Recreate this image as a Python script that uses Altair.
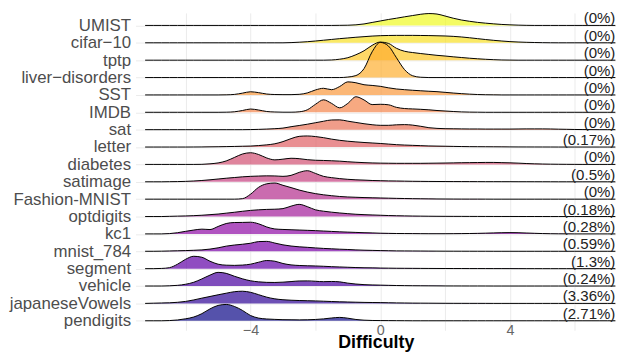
import json
import altair as alt
import pandas as pd

# ---- data -------------------------------------------------------------
DATASETS = ["UMIST", "cifar\u221210", "tptp", "liver\u2212disorders", "SST", "IMDB",
            "sat", "letter", "diabetes", "satimage", "Fashion-MNIST", "optdigits",
            "kc1", "mnist_784", "segment", "vehicle", "japaneseVowels", "pendigits"]

PERCENTS = ["(0%)", "(0%)", "(0%)", "(0%)", "(0%)", "(0%)", "(0%)", "(0.17%)",
            "(0%)", "(0.5%)", "(0%)", "(0.18%)", "(0.28%)", "(0.59%)", "(1.3%)",
            "(0.24%)", "(3.36%)", "(2.71%)"]

# Difficulty sample positions (-7.25 .. 7.25, step 0.25)
X_GRID = [round(-7.25 + 0.25 * i, 2) for i in range(59)]

# Density heights (scaled) at each X_GRID position
UMIST_H = [0, 0, 0, 0, 0, 0, 0, 0, 0, 0,
           0, 0, 0, 0, 0, 0, 0, 0, 0, 0,
           0, 0, 0, 0, 0.1, 0.2, 0.6, 1.5, 3.0, 4.5,
           6.0, 7.3, 8.7, 10.0, 11.3, 12.0, 11.5, 9.5, 7.3, 5.5,
           4.2, 3.1, 2.3, 1.6, 1.0, 0.6, 0.3, 0.1, 0, 0,
           0, 0, 0, 0, 0, 0, 0, 0, 0]
CIFAR_H = [0, 0, 0, 0, 0, 0, 0, 0, 0, 0,
           0, 0, 0, 0, 0, 0, 0, 0, 0.2, 0.6,
           1.1, 1.8, 2.6, 3.4, 4.2, 4.9, 5.6, 6.2, 6.8, 7.2,
           7.4, 7.5, 7.5, 7.5, 7.4, 7.3, 7.1, 6.9, 6.5, 5.9,
           5.1, 4.2, 3.3, 2.5, 1.8, 1.2, 0.8, 0.5, 0.3, 0.15,
           0.05, 0, 0, 0, 0, 0, 0, 0, 0]
TPTP_H = [0, 0, 0, 0, 0, 0, 0, 0, 0, 0,
          0, 0, 0, 0, 0, 0, 0, 0, 0, 0,
          0, 0, 0, 0.2, 1.0, 2.5, 5.5, 9.5, 15.0, 18.3,
          17.0, 12.0, 9.0, 7.7, 6.7, 5.8, 4.9, 4.2, 3.4, 2.7,
          2.0, 1.4, 0.9, 0.5, 0.2, 0.1, 0, 0, 0, 0,
          0, 0, 0, 0, 0, 0, 0, 0, 0]
LIVER_H = [0, 0, 0, 0, 0, 0, 0, 0, 0, 0,
           0, 0, 0, 0, 0, 0, 0, 0, 0, 0,
           0, 0, 0, 0, 0, 0.5, 2.0, 9.0, 26.0, 35.5,
           32.0, 20.0, 8.0, 1.8, 0.3, 0, 0, 0, 0, 0,
           0, 0, 0, 0, 0, 0, 0, 0, 0, 0,
           0, 0, 0, 0, 0, 0, 0, 0, 0]
SST_H = [0, 0, 0, 0, 0, 0, 0, 0, 0, 0,
         0.1, 0.5, 1.8, 3.2, 2.3, 0.9, 0.4, 0.3, 0.3, 0.6,
         2.0, 5.0, 6.7, 5.3, 8.5, 13.2, 12.3, 10.3, 9.6, 8.7,
         7.2, 6.0, 5.3, 4.7, 4.2, 3.7, 3.3, 2.6, 1.9, 1.3,
         0.8, 0.4, 0.2, 0.1, 0, 0, 0, 0, 0, 0,
         0, 0, 0, 0, 0, 0, 0, 0, 0]
IMDB_H = [0, 0, 0, 0, 0, 0, 0, 0, 0, 0,
          0.1, 0.5, 1.8, 3.3, 2.3, 0.8, 0.3, 0.1, 0.1, 0.5,
          2.5, 8.0, 12.6, 9.0, 4.5, 9.0, 15.7, 12.5, 7.8, 8.1,
          7.6, 5.0, 3.8, 3.4, 3.0, 2.5, 1.8, 1.3, 0.8, 0.4,
          0.2, 0.1, 0, 0, 0, 0, 0, 0, 0, 0,
          0, 0, 0, 0, 0, 0, 0, 0, 0]
SAT_H = [0, 0, 0, 0, 0, 0, 0, 0, 0, 0,
         0, 0, 0, 0.1, 0.3, 0.6, 1.0, 1.6, 3.0, 4.2,
         5.5, 7.0, 8.5, 9.8, 9.9, 8.6, 7.3, 6.0, 5.0, 4.4,
         4.4, 4.9, 5.1, 4.6, 3.4, 2.0, 1.3, 1.0, 0.9, 0.8,
         0.7, 0.7, 0.6, 0.6, 0.6, 0.6, 0.7, 0.8, 0.8, 0.8,
         0.7, 0.5, 0.35, 0.2, 0.1, 0.05, 0, 0, 0]
LETTER_H = [0, 0, 0, 0, 0, 0, 0.05, 0.1, 0.2, 0.3,
            0.45, 0.6, 0.8, 1.0, 1.5, 2.2, 3.3, 5.5, 8.5, 10.8,
            11.2, 10.6, 9.5, 8.0, 6.8, 5.9, 5.2, 4.6, 4.1, 3.6,
            3.0, 2.4, 2.0, 1.7, 1.4, 1.1, 0.95, 0.8, 0.65, 0.5,
            0.4, 0.35, 0.3, 0.25, 0.2, 0.15, 0.1, 0.08, 0.06, 0.05,
            0.03, 0, 0, 0, 0, 0, 0, 0, 0]
DIABETES_H = [0, 0, 0, 0, 0, 0, 0, 0.1, 0.6, 1.5,
              3.5, 7.0, 10.5, 11.8, 10.0, 6.5, 4.6, 5.3, 6.2, 5.8,
              4.8, 4.2, 4.0, 3.7, 3.3, 2.7, 2.2, 1.8, 1.5, 1.3,
              1.2, 1.1, 1.1, 1.1, 1.1, 1.2, 1.3, 1.4, 1.55, 1.7,
              1.8, 1.9, 2.0, 2.0, 1.8, 1.6, 1.3, 0.9, 0.6, 0.4,
              0.25, 0.15, 0.1, 0.05, 0, 0, 0, 0, 0]
SATIMAGE_H = [0, 0, 0, 0.1, 0.2, 0.4, 0.8, 1.3, 2.0, 2.8,
              3.6, 4.3, 5.0, 5.5, 5.8, 6.0, 5.9, 5.5, 6.5, 9.5,
              11.2, 8.5, 5.5, 4.2, 3.2, 2.5, 2.0, 1.7, 1.3, 1.1,
              0.9, 0.8, 0.65, 0.5, 0.42, 0.35, 0.3, 0.25, 0.22, 0.2,
              0.18, 0.15, 0.13, 0.12, 0.1, 0.1, 0.08, 0.07, 0.06, 0.05,
              0.03, 0, 0, 0, 0, 0, 0, 0, 0]
FASHION_H = [0, 0, 0, 0, 0, 0, 0, 0, 0, 0,
             0, 0, 0.5, 5.0, 12.0, 15.5, 16.3, 14.0, 11.7, 9.2,
             7.2, 5.6, 4.4, 3.5, 2.7, 2.2, 1.9, 1.6, 1.4, 1.2,
             1.0, 0.8, 0.65, 0.5, 0.4, 0.3, 0.2, 0.15, 0.1, 0.08,
             0.06, 0.05, 0.03, 0, 0, 0, 0, 0, 0, 0,
             0, 0, 0, 0, 0, 0, 0, 0, 0]
OPTDIGITS_H = [0, 0, 0, 0.2, 0.4, 0.6, 0.9, 1.3, 1.9, 2.5,
               3.4, 4.3, 5.3, 6.2, 6.8, 7.2, 7.4, 8.0, 10.5, 12.3,
               10.0, 6.8, 5.4, 4.4, 3.6, 2.9, 2.3, 1.9, 1.6, 1.3,
               1.0, 0.8, 0.65, 0.5, 0.4, 0.3, 0.25, 0.2, 0.17, 0.15,
               0.12, 0.1, 0.08, 0.07, 0.06, 0.05, 0.04, 0.03, 0.02, 0.01,
               0, 0, 0, 0, 0, 0, 0, 0, 0]
KC1_H = [0, 0, 0, 0.3, 1.2, 2.6, 3.9, 4.8, 4.4, 7.5,
         10.5, 11.5, 11.6, 11.8, 10.2, 7.0, 5.0, 4.5, 4.2, 3.9,
         3.6, 3.3, 2.9, 2.5, 2.1, 1.8, 1.5, 1.2, 1.0, 0.7,
         0.55, 0.4, 0.35, 0.3, 0.25, 0.2, 0.2, 0.2, 0.25, 0.3,
         0.4, 0.55, 0.75, 1.0, 1.2, 1.3, 1.2, 0.9, 0.6, 0.35,
         0.2, 0.1, 0.05, 0, 0, 0, 0, 0, 0]
MNIST_H = [0, 0, 0.1, 0.3, 0.5, 0.7, 1.0, 1.4, 2.2, 3.5,
           5.2, 6.3, 7.1, 8.1, 9.8, 10.0, 8.3, 6.5, 5.3, 4.5,
           4.0, 3.4, 2.9, 2.5, 2.1, 1.8, 1.4, 1.1, 0.9, 0.7,
           0.55, 0.4, 0.35, 0.3, 0.25, 0.2, 0.15, 0.1, 0.08, 0.06,
           0.05, 0.04, 0.03, 0, 0, 0, 0, 0, 0, 0,
           0, 0, 0, 0, 0, 0, 0, 0, 0]
SEGMENT_H = [0, 0, 0.2, 1.0, 4.5, 9.5, 12.5, 11.5, 7.5, 4.5,
             3.5, 3.3, 3.6, 4.5, 6.5, 8.2, 7.5, 5.2, 3.8, 3.2,
             2.9, 2.7, 2.4, 2.0, 1.7, 1.4, 1.1, 0.9, 0.8, 0.6,
             0.5, 0.4, 0.35, 0.3, 0.25, 0.2, 0.18, 0.15, 0.13, 0.12,
             0.1, 0.1, 0.08, 0.07, 0.06, 0.05, 0.03, 0.02, 0.01, 0,
             0, 0, 0, 0, 0, 0, 0, 0, 0]
VEHICLE_H = [0, 0, 0, 0.2, 0.7, 1.8, 3.8, 7.2, 11.0, 13.8,
             12.8, 9.9, 7.3, 5.3, 4.2, 3.7, 3.6, 3.9, 4.5, 5.1,
             5.2, 4.8, 4.4, 4.6, 4.2, 2.9, 2.0, 1.4, 1.1, 0.9,
             0.7, 0.5, 0.4, 0.3, 0.25, 0.2, 0.15, 0.1, 0.08, 0.06,
             0.05, 0.04, 0.03, 0, 0, 0, 0, 0, 0, 0,
             0, 0, 0, 0, 0, 0, 0, 0, 0]
JAPANESE_H = [0, 0.2, 0.4, 0.6, 1.1, 2.0, 3.5, 5.3, 7.0, 8.7,
              10.3, 11.8, 12.3, 11.2, 8.8, 6.3, 4.6, 3.7, 3.2, 2.9,
              2.7, 2.5, 2.2, 1.9, 1.6, 1.4, 1.2, 1.0, 0.9, 0.8,
              0.65, 0.5, 0.4, 0.3, 0.25, 0.2, 0.15, 0.1, 0.08, 0.06,
              0.05, 0.04, 0.03, 0, 0, 0, 0, 0, 0, 0,
              0, 0, 0, 0, 0, 0, 0, 0, 0]
PENDIGITS_H = [0, 0, 0, 0.2, 0.8, 2.0, 3.8, 7.2, 12.0, 15.5,
               16.5, 14.5, 10.5, 5.3, 2.7, 1.8, 1.4, 1.1, 1.0, 0.9,
               1.0, 1.3, 1.9, 2.8, 3.4, 2.6, 1.3, 0.6, 0.3, 0.2,
               0.15, 0.1, 0.05, 0, 0, 0, 0, 0, 0, 0,
               0, 0, 0, 0, 0, 0, 0, 0, 0, 0,
               0, 0, 0, 0, 0, 0, 0, 0, 0]

HEIGHTS = [UMIST_H, CIFAR_H, TPTP_H, LIVER_H, SST_H, IMDB_H, SAT_H, LETTER_H,
           DIABETES_H, SATIMAGE_H, FASHION_H, OPTDIGITS_H, KC1_H, MNIST_H,
           SEGMENT_H, VEHICLE_H, JAPANESE_H, PENDIGITS_H]

# ---- build tables ------------------------------------------------------
n = len(DATASETS)
records = []
for i, (name, hs) in enumerate(zip(DATASETS, HEIGHTS)):
    row = n - 1 - i
    for x, h in zip(X_GRID, hs):
        records.append({"dataset": name, "row": row, "x": x, "h": h})
dens = pd.DataFrame(records)
labels = pd.DataFrame({"dataset": DATASETS, "row": [n - 1 - i for i in range(n)],
                       "pct": PERCENTS})

RIDGE_SCALE = 1 / 17.56   # density units -> row units
FONT = "Liberation Sans"
names_by_row = [DATASETS[n - 1 - r] for r in range(n)]

x_enc = alt.X("x:Q",
              scale=alt.Scale(domain=[-7.546, 7.27], nice=False, zero=False),
              axis=alt.Axis(values=[-6, -4, -2, 0, 2, 4, 6],
                            labelExpr="datum.value % 4 === 0 ? datum.label : ''",
                            title="Difficulty", grid=True, gridColor="#ebebeb",
                            gridWidth=1, ticks=False, tickSize=0, domain=False,
                            labelFont=FONT, labelFontSize=14.5, labelColor="#666666",
                            labelPadding=-7, titleFont=FONT, titleFontSize=18,
                            titleFontWeight="bold", titleColor="#000000",
                            titlePadding=-3))
y_scale = alt.Scale(domain=[-0.547, 17.72], nice=False, zero=False)
y_axis = alt.Axis(values=list(range(n)),
                  labelExpr=json.dumps(names_by_row) + "[datum.value]",
                  title=None, grid=True, gridColor="#ebebeb", gridWidth=1,
                  ticks=False, tickSize=0, domain=False, labelFont=FONT,
                  labelFontSize=17, labelColor="#4d4d4d", labelPadding=5)
color_enc = alt.Color("row:Q", scale=alt.Scale(scheme="plasma", domain=[0, n - 1]),
                      legend=None)

layers = []
for name in DATASETS:
    base = (alt.Chart(dens)
            .transform_filter(alt.datum.dataset == name)
            .transform_calculate(top=f"datum.row + datum.h * {RIDGE_SCALE}"))
    area = base.mark_area(opacity=0.7, interpolate="monotone").encode(
        x=x_enc,
        y=alt.Y("top:Q", scale=y_scale, axis=y_axis),
        y2="row:Q",
        color=color_enc,
    )
    line = base.mark_line(color="black", strokeWidth=1, interpolate="monotone").encode(
        x=x_enc,
        y=alt.Y("top:Q", scale=y_scale, axis=y_axis),
    )
    layers += [area, line]

text = alt.Chart(labels).mark_text(align="right", baseline="alphabetic", dy=-2,
                                   font=FONT, fontSize=15.2, color="#222222").encode(
    x=alt.datum(max(X_GRID)),
    y=alt.Y("row:Q", scale=y_scale, axis=y_axis),
    text="pct:N",
)
layers.append(text)

chart = (alt.layer(*layers)
         .properties(width=486, height=321,
                     autosize=alt.AutoSizeParams(type="none"),
                     padding={"left": 129, "top": 3, "right": 0, "bottom": 20},
                     background="white")
         .configure_view(stroke=None))

chart.save("out.html", embed_options={"renderer": "svg", "actions": False})
